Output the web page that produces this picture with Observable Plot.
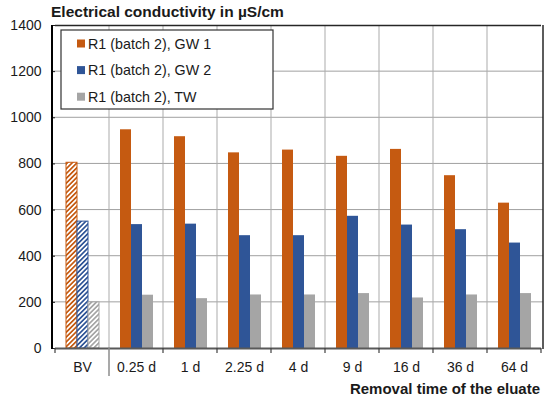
<!DOCTYPE html>
<html><head><meta charset="utf-8">
<script src="https://cdn.jsdelivr.net/npm/d3@7"></script>
<script src="https://cdn.jsdelivr.net/npm/@observablehq/plot@0.6"></script>
<style>html,body{margin:0;padding:0;background:#fff;}</style>
</head><body><div id="chart"></div>
<script>
// ---- data ----
const categories = ["BV", "0.25 d", "1 d", "2.25 d", "4 d", "9 d", "16 d", "36 d", "64 d"];
const seriesNames = ["R1 (batch 2), GW 1", "R1 (batch 2), GW 2", "R1 (batch 2), TW"];
const gw1 = [805, 948, 918, 848, 860, 833, 863, 749, 630];
const gw2 = [550, 537, 539, 489, 489, 573, 535, 515, 457];
const tw  = [200, 231, 216, 232, 232, 238, 219, 232, 238];
const yTicks = [0, 200, 400, 600, 800, 1000, 1200, 1400];
const titleText = "Electrical conductivity in µS/cm";
const xLabelText = "Removal time of the eluate";
const hatchedCategory = "BV";

const colors = ["#C55A11", "#2F5597", "#A5A5A5"];
const hatchIds = ["hatch-gw1", "hatch-gw2", "hatch-tw"];
const font = "'Liberation Sans', Arial, sans-serif";

const seriesValues = [gw1, gw2, tw];
const data = categories.flatMap((c, i) =>
  seriesValues.map((arr, s) => ({cat: c, series: seriesNames[s], s, value: arr[i]})));

const W = 550, H = 401, mL = 52, mR = 7, mT = 25, mB = 53;

const plot = Plot.plot({
  width: W, height: H,
  marginLeft: mL, marginRight: mR, marginTop: mT, marginBottom: mB,
  style: {fontFamily: font, fontSize: "14px", color: "#1a1a1a", background: "#fff"},
  fx: {domain: categories, padding: 0, label: null, tickSize: 0, tickPadding: 14},
  x: {domain: seriesNames, paddingInner: 0, paddingOuter: 0.76, axis: null},
  y: {domain: [0, 1400], ticks: yTicks, tickFormat: "d", tickSize: 4, tickPadding: 10, label: null},
  color: {type: "identity"},
  marks: [
    Plot.barY(data, {
      fx: "cat", x: "series", y: "value",
      fill: d => d.cat === hatchedCategory ? `url(#${hatchIds[d.s]})` : colors[d.s],
      stroke: d => d.cat === hatchedCategory ? colors[d.s] : "none",
      strokeWidth: 1
    }),
    Plot.ruleY([0], {stroke: "#595959", strokeWidth: 2}),
    Plot.ruleY([1400], {stroke: "#262626", strokeWidth: 1.5})
  ]
});

document.getElementById("chart").appendChild(plot);

// ---- post-processing: patterns, grid, frame lines, ticks, legend, texts ----
const svg = d3.select(plot);
const fxs = plot.scale("fx");
const ys = plot.scale("y");
const y0 = H - mB, yTop = mT, xRight = W - mR;
const boundaries = categories.map(c => fxs.apply(c))
  .concat([fxs.apply(categories[categories.length - 1]) + fxs.bandwidth]);

// grid below the marks
const grid = svg.insert("g", ":first-child");
yTicks.slice(1, -1).forEach(v => {
  grid.append("line").attr("x1", mL).attr("x2", xRight).attr("y1", ys.apply(v)).attr("y2", ys.apply(v))
    .attr("stroke", "#a0a0a0").attr("stroke-width", 1);
});
boundaries.slice(1, -1).forEach(bx => {
  grid.append("line").attr("x1", bx).attr("x2", bx).attr("y1", yTop).attr("y2", y0)
    .attr("stroke", "#ababab").attr("stroke-width", 1);
});

const defs = svg.insert("defs", ":first-child");
hatchIds.forEach((id, i) => {
  const p = defs.append("pattern")
    .attr("id", id).attr("patternUnits", "userSpaceOnUse")
    .attr("width", 3.4).attr("height", 3.4)
    .attr("patternTransform", "rotate(45)");
  p.append("rect").attr("width", 3.4).attr("height", 3.4).attr("fill", "#fff");
  p.append("rect").attr("width", 1.7).attr("height", 3.4).attr("fill", colors[i]);
});

const over = svg.append("g").attr("text-anchor", "start");

// left axis line and right border
over.append("line").attr("x1", mL).attr("x2", mL).attr("y1", yTop).attr("y2", y0 + 1)
  .attr("stroke", "#000").attr("stroke-width", 2);
over.append("line").attr("x1", xRight).attr("x2", xRight).attr("y1", yTop).attr("y2", y0 + 1)
  .attr("stroke", "#262626").attr("stroke-width", 1.5);

// x tick marks at category boundaries
boundaries.forEach((bx, i) => {
  const longTick = i === 1;
  over.append("line").attr("x1", bx).attr("x2", bx)
    .attr("y1", y0).attr("y2", y0 + (longTick ? 28 : 5))
    .attr("stroke", longTick ? "#8c8c8c" : "#404040").attr("stroke-width", longTick ? 1.5 : 1.2);
});

// legend
const lg = over.append("g");
lg.append("rect").attr("x", 61).attr("y", 30).attr("width", 212).attr("height", 79)
  .attr("fill", "#fff").attr("stroke", "#333").attr("stroke-width", 1.2);
seriesNames.forEach((name, i) => {
  const cy = 43.5 + i * 26.6;
  lg.append("rect").attr("x", 77).attr("y", cy - 4).attr("width", 8).attr("height", 8).attr("fill", colors[i]);
  lg.append("text").attr("x", 88).attr("y", cy).attr("dy", "0.35em").attr("text-anchor", "start")
    .attr("font-family", font).attr("font-size", 14.3).attr("fill", "#1a1a1a").text(name);
});

// title and x label
over.append("text").attr("x", 51).attr("y", 16.5).attr("text-anchor", "start")
  .attr("font-family", font).attr("font-size", 15.5).attr("font-weight", "bold").attr("fill", "#1a1a1a")
  .text(titleText);
over.append("text").attr("x", 540).attr("y", 394).attr("text-anchor", "end")
  .attr("font-family", font).attr("font-size", 15).attr("font-weight", "bold").attr("fill", "#1a1a1a")
  .text(xLabelText);
</script>
</body></html>
